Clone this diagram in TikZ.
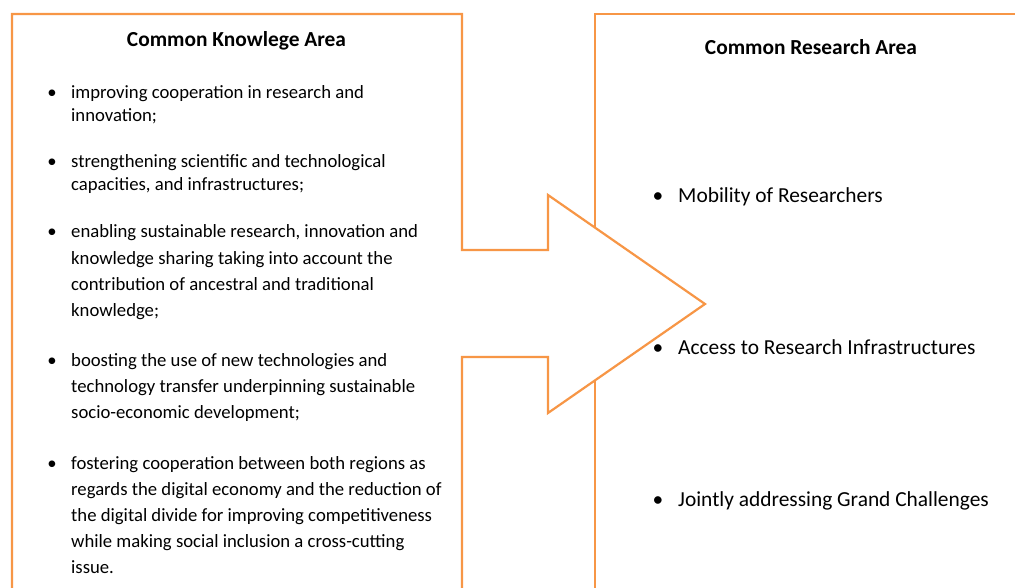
\documentclass[tikz,border=0pt]{standalone}
\usepackage{fontspec}
\setmainfont{Carlito}
\definecolor{acc}{RGB}{247,150,70}
\begin{document}
\begin{tikzpicture}[x=1pt,y=-1pt,
  edge/.style={draw=acc,line width=2.2pt,line join=miter},
  ltxt/.style={anchor=base west,inner sep=0pt,font=\fontsize{18.7}{22.6}\selectfont},
  ltxtw/.style={ltxt,font=\fontsize{18.7}{26.1}\selectfont},
  lbul/.style={anchor=base,inner sep=0pt,font=\fontsize{18.7}{22}\selectfont},
  rtxt/.style={anchor=base west,inner sep=0pt,font=\fontsize{21.4}{26}\selectfont},
  rbul/.style={anchor=base,inner sep=0pt,font=\fontsize{21.4}{26}\selectfont},
  head/.style={anchor=base,inner sep=0pt,font=\bfseries\fontsize{21.4}{26}\selectfont}]
\useasboundingbox (0,0) rectangle (1015,588);
\begin{scope}
\clip (0,0) rectangle (1015,588);
\draw[edge,fill=white] (595,14) -- (1030,14) -- (1030,600) -- (595,600) -- cycle;
\draw[edge,fill=white] (12,600) -- (12,14) -- (462,14) -- (462,250) -- (548,250) -- (548,195)
  -- (705,304) -- (548,413) -- (548,357) -- (462,357) -- (462,600);
\end{scope}
% left
\node[head] (hl) at (236.5,47) {Common Knowlege Area};
\node[lbul] (b1) at (52,99) {•};
\node[ltxt] (t1) at (71,99) {\vtop{\hbox{improving cooperation in research and}\hbox{innovation;}}};
\node[lbul] (b2) at (52,168) {•};
\node[ltxt] (t2) at (71,168) {\vtop{\hbox{strengthening scientific and technological}\hbox{capacities, and infrastructures;}}};
\node[lbul] (b3) at (52,238) {•};
\node[ltxtw] (t3) at (71,238) {\vtop{\hbox{enabling sustainable research, innovation and}\hbox{knowledge sharing taking into account the}\hbox{contribution of ancestral and traditional}\hbox{knowledge;}}};
\node[lbul] (b4) at (52,366) {•};
\node[ltxtw] (t4) at (71,366) {\vtop{\hbox{boosting the use of new technologies and}\hbox{technology transfer underpinning sustainable}\hbox{socio-economic development;}}};
\node[lbul] (b5) at (52,469) {•};
\node[ltxtw] (t5) at (71,469) {\vtop{\hbox{fostering cooperation between both regions as}\hbox{regards the digital economy and the reduction of}\hbox{the digital divide for improving competitiveness}\hbox{while making social inclusion a cross-cutting}\hbox{issue.}}};
% right
\node[head] (hr) at (811,55) {Common Research Area};
\node[rbul] (r1b) at (658,203) {•};
\node[rtxt] (r1) at (678,203) {Mobility of Researchers};
\node[rbul] (r2b) at (658,354) {•};
\node[rtxt] (r2) at (678,354) {Access to Research Infrastructures};
\node[rbul] (r3b) at (658,506) {•};
\node[rtxt] (r3) at (678,506) {Jointly addressing Grand Challenges};
\end{tikzpicture}
\end{document}
